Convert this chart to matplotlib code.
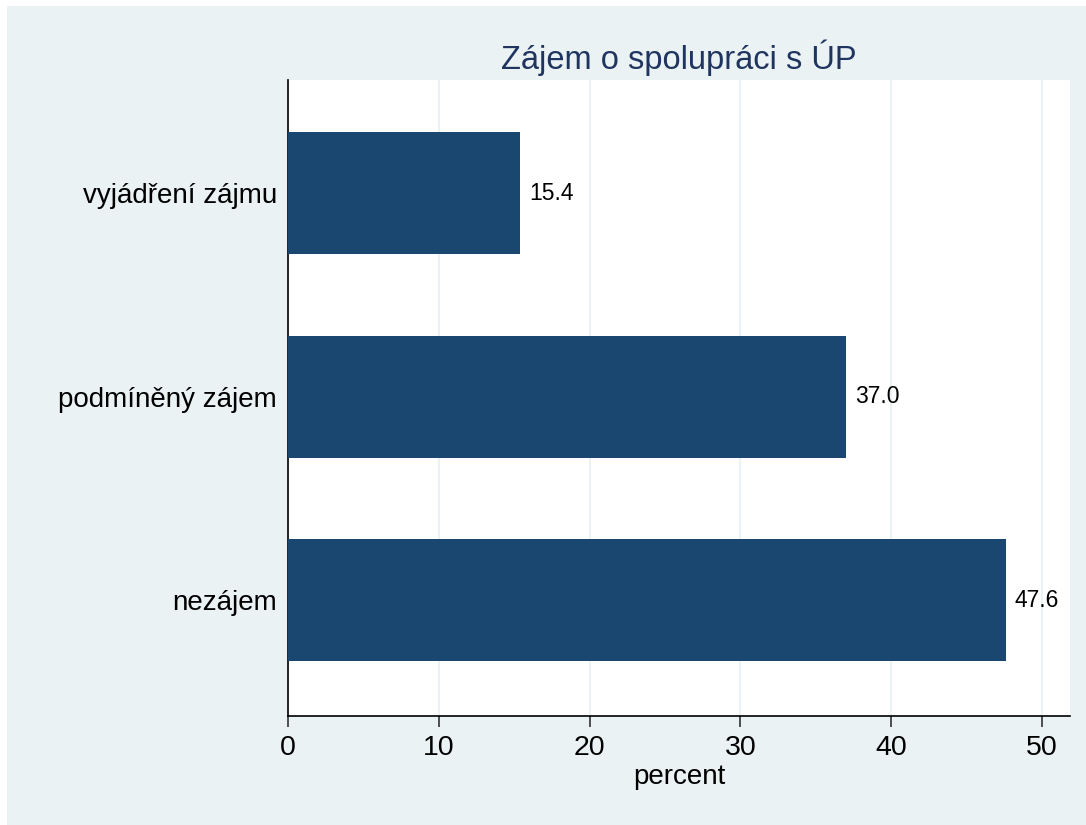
import matplotlib
matplotlib.use("Agg")
import matplotlib.pyplot as plt
from matplotlib.patches import Rectangle

categories = ["vyjádření zájmu", "podmíněný zájem", "nezájem"]
values = [15.4, 37.0, 47.6]
xticks = [0, 10, 20, 30, 40, 50]
title = "Zájem o spolupráci s ÚP"
xlabel = "percent"

BG = "#EAF2F3"
BAR = "#1A476F"

plt.rcParams['font.family'] = ['Liberation Sans', 'DejaVu Sans']

fig = plt.figure(figsize=(10.86, 8.25), dpi=100, facecolor="white")
bgrect = Rectangle((7/1086, 0), 1 - 7/1086, 819/825, transform=fig.transFigure,
                   facecolor=BG, edgecolor="none", zorder=-10)
fig.add_artist(bgrect)

ax = fig.add_axes([288/1086, 1 - 716/825, (1070 - 288)/1086, (716 - 80)/825])
ax.set_zorder(1)
ax.set_facecolor("white")

ypos = list(range(len(categories) - 1, -1, -1))
ax.barh(ypos, values, height=0.6, color=BAR, zorder=3)
for y, v in zip(ypos, values):
    ax.text(v + 0.6, y, f"{v:.1f}", va="center", ha="left", fontsize=16.5, color="black", zorder=4)

ax.set_xlim(0, 51.86)
ax.set_ylim(-0.5676, 2.555)
ax.set_xticks(xticks)
ax.set_xticklabels([str(t) for t in xticks], fontsize=20.5)
ax.set_yticks(ypos)
ax.set_yticklabels(categories, fontsize=20)
ax.tick_params(axis="y", length=0, pad=8)
ax.tick_params(axis="x", length=8, width=1.2, color="#333333", pad=6)
ax.xaxis.grid(True, color=BG, linewidth=1.5, zorder=0)
ax.set_axisbelow(True)

for s in ["top", "right"]:
    ax.spines[s].set_visible(False)
for s in ["left", "bottom"]:
    ax.spines[s].set_color("black")
    ax.spines[s].set_linewidth(1.2)

ax.set_xlabel(xlabel, fontsize=20, labelpad=2)
ax.set_title(title, fontsize=23.5, color="#1F3560", pad=8)

fig.savefig("out.png", dpi=100, facecolor=fig.get_facecolor())
